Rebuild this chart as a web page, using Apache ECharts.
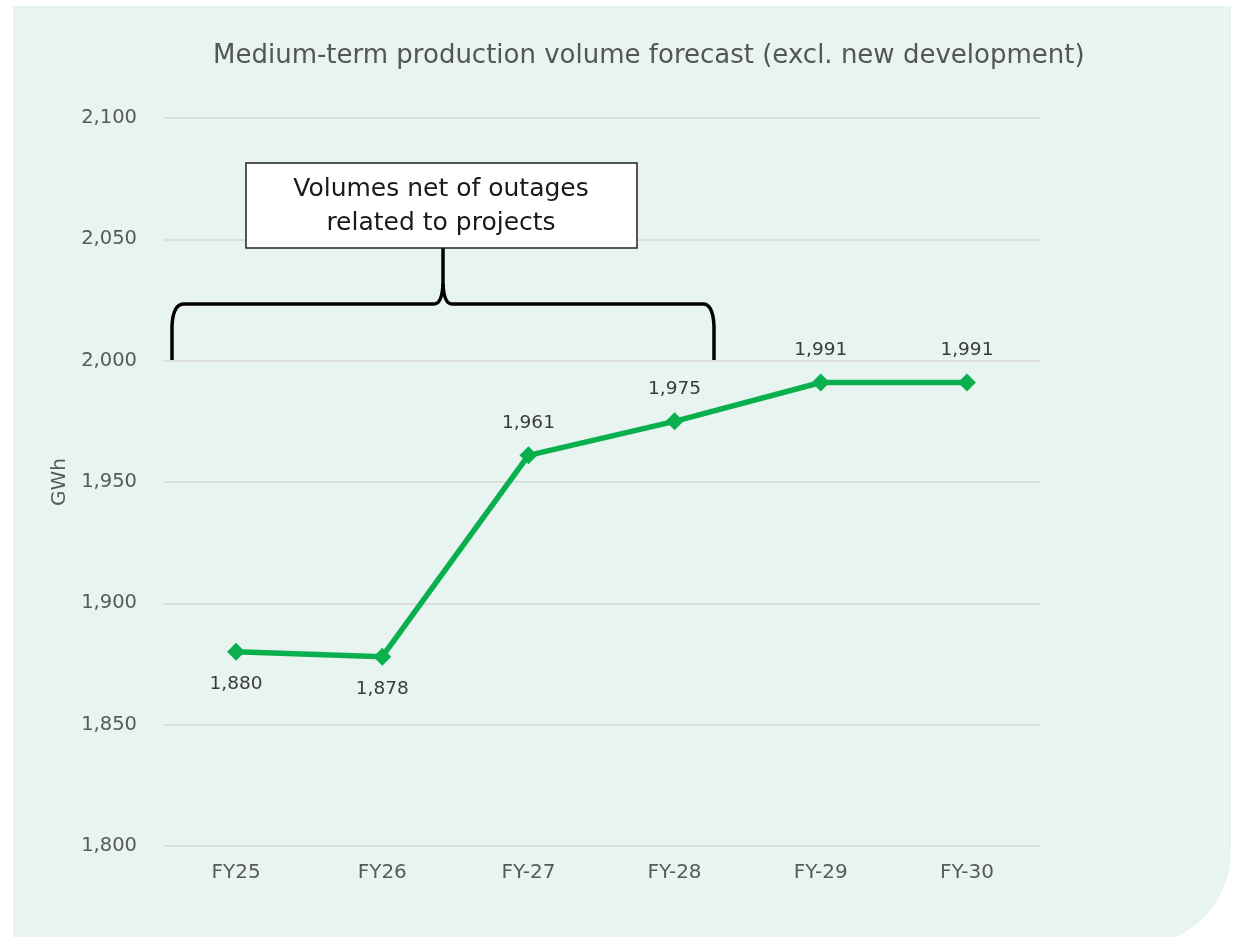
<!DOCTYPE html>
<html>
<head>
<meta charset="utf-8">
<script src="https://cdn.jsdelivr.net/npm/echarts@6/dist/echarts.min.js"></script>
<style>
  html, body { margin: 0; padding: 0; background: #ffffff; }
  #bg { position: absolute; left: 13px; top: 6px; width: 1218px; height: 940px;
        background: #e7f4ef; border-bottom-right-radius: 95px; }
  #chart { position: absolute; left: 0; top: 0; width: 1234px; height: 937px; }
</style>
</head>
<body>
<div id="bg"></div>
<div id="chart"></div>
<script>
const categories = ['FY25', 'FY26', 'FY-27', 'FY-28', 'FY-29', 'FY-30']
const volumes = [1880, 1878, 1961, 1975, 1991, 1991] // GWh
const labelBelow = [true, true, false, false, false, false]
const noteLines = ['Volumes net of outages', 'related to projects']

const font = 'DejaVu Sans'
const green = '#0ab04e'
const myChart = echarts.init(document.getElementById('chart'))

// curly brace pieces (annotation, pixel positions)
const braceStyle = { stroke: '#000000', lineWidth: 3.5, fill: null }
const brace = [
  { type: 'line', shape: { x1: 172, y1: 360, x2: 172, y2: 326 } },
  { type: 'bezierCurve', shape: { x1: 172, y1: 326, cpx1: 173, cpy1: 304, x2: 184, y2: 304 } },
  { type: 'line', shape: { x1: 184, y1: 304, x2: 434, y2: 304 } },
  { type: 'bezierCurve', shape: { x1: 434, y1: 304, cpx1: 442, cpy1: 304, x2: 443, y2: 284 } },
  { type: 'line', shape: { x1: 443, y1: 284, x2: 443, y2: 248 } },
  { type: 'bezierCurve', shape: { x1: 443, y1: 284, cpx1: 444, cpy1: 304, x2: 452, y2: 304 } },
  { type: 'line', shape: { x1: 452, y1: 304, x2: 703, y2: 304 } },
  { type: 'bezierCurve', shape: { x1: 703, y1: 304, cpx1: 713, cpy1: 304, x2: 714, y2: 326 } },
  { type: 'line', shape: { x1: 714, y1: 326, x2: 714, y2: 360 } },
].map(el => Object.assign(el, { style: braceStyle, z: 100 }))

const option = {
  backgroundColor: 'transparent',
  animation: false,
  textStyle: { fontFamily: font },
  title: {
    text: 'Medium-term production volume forecast (excl. new development)',
    left: 208,
    top: 38,
    textStyle: { fontFamily: font, fontSize: 26, fontWeight: 'normal', color: '#555555' },
  },
  grid: { left: 163, right: 194, top: 118, bottom: 91 },
  xAxis: {
    type: 'category',
    data: categories,
    boundaryGap: true,
    axisLine: { show: false },
    axisTick: { show: false },
    axisLabel: { fontSize: 20, color: '#595959', margin: 17 },
  },
  yAxis: {
    type: 'value',
    min: 1800,
    max: 2100,
    interval: 50,
    name: 'GWh',
    nameLocation: 'middle',
    nameGap: 92,
    nameRotate: 90,
    nameTextStyle: { fontSize: 20, color: '#595959' },
    axisLabel: {
      fontSize: 19.5,
      color: '#595959',
      margin: 26,
      formatter: v => v.toLocaleString('en-US'),
    },
    splitLine: { lineStyle: { color: '#d9d9d9', width: 1.5 } },
  },
  series: [
    {
      type: 'line',
      data: volumes.map((v, i) => ({
        value: v,
        label: { position: labelBelow[i] ? 'bottom' : 'top' },
      })),
      color: green,
      lineStyle: { width: 5.5, color: green },
      symbol: 'diamond',
      symbolSize: 18,
      itemStyle: { color: green },
      label: {
        show: true,
        distance: 14,
        fontSize: 18.5,
        color: '#3a3a3a',
        formatter: p => p.value.toLocaleString('en-US'),
      },
    },
  ],
  graphic: brace.concat([
    {
      type: 'rect',
      z: 100,
      shape: { x: 246, y: 163, width: 391, height: 85 },
      style: { fill: '#ffffff', stroke: '#222222', lineWidth: 1.5 },
    },
    {
      type: 'text',
      z: 101,
      x: 441,
      y: 206,
      style: {
        text: noteLines.join('\n'),
        font: '25px "' + font + '"',
        fill: '#1a1a1a',
        align: 'center',
        verticalAlign: 'middle',
        lineHeight: 34,
      },
    },
  ]),
}

myChart.setOption(option)
</script>
</body>
</html>
